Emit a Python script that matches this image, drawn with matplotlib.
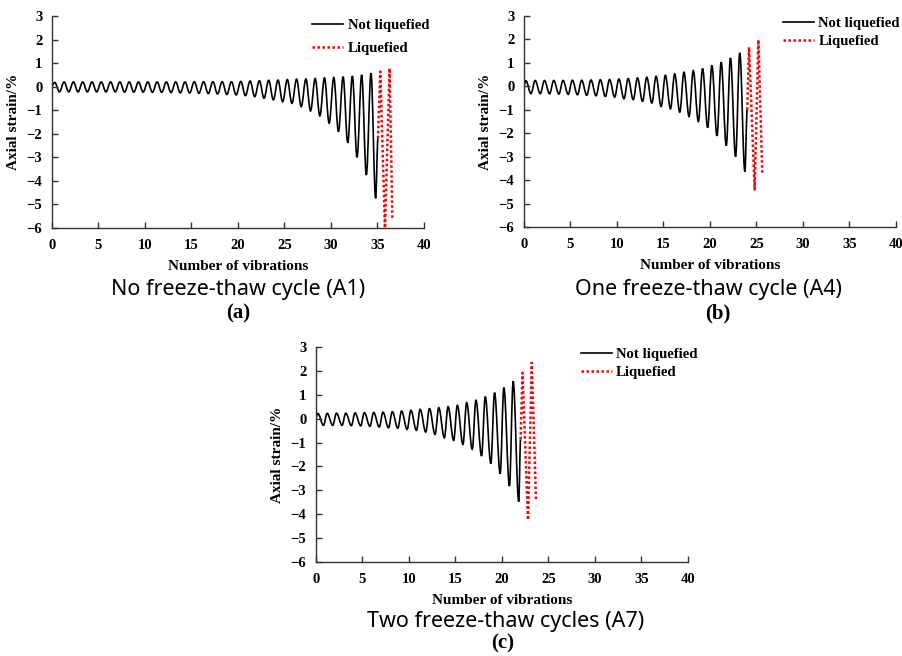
import matplotlib
matplotlib.use("Agg")
import matplotlib.pyplot as plt
from matplotlib.path import Path
from matplotlib.patches import PathPatch
from matplotlib.lines import Line2D

# ---------------- data ----------------
x_ticks = [0, 5, 10, 15, 20, 25, 30, 35, 40]
y_ticks = [-6, -5, -4, -3, -2, -1, 0, 1, 2, 3]

# Panel (a): No freeze-thaw cycle (A1)
a_start = 0.05
a_peak_phase = 0.3
a_trough_phase = 0.8
a_peaks = [0.18, 0.20, 0.20, 0.20, 0.20, 0.20, 0.20, 0.20, 0.20, 0.20,
           0.20, 0.20, 0.20, 0.20, 0.20, 0.21, 0.21, 0.21, 0.21, 0.21,
           0.22, 0.24, 0.25, 0.27, 0.28, 0.30, 0.32, 0.33, 0.35, 0.37,
           0.39, 0.42, 0.45, 0.50, 0.57]
a_troughs = [-0.22, -0.22, -0.22, -0.22, -0.22, -0.22, -0.22, -0.23, -0.23, -0.23,
             -0.24, -0.24, -0.25, -0.26, -0.27, -0.28, -0.29, -0.31, -0.33, -0.35,
             -0.38, -0.42, -0.49, -0.56, -0.64, -0.71, -0.85, -1.03, -1.24, -1.55,
             -1.91, -2.38, -3.00, -3.75, -4.74]
a_end = (35.05, -2.19)
a_liq_x = [35.05, 35.3, 35.8, 36.3, 36.6]
a_liq_y = [-2.19, 0.64, -6.0, 0.78, -5.63]

# Panel (b): One freeze-thaw cycle (A4)
b_start = 0.05
b_peak_phase = 0.2
b_trough_phase = 0.75
b_peaks = [0.24, 0.25, 0.25, 0.25, 0.25, 0.26, 0.26, 0.27, 0.28, 0.29,
           0.31, 0.33, 0.36, 0.39, 0.43, 0.47, 0.53, 0.60, 0.67, 0.76,
           0.89, 1.03, 1.21, 1.43]
b_troughs = [-0.31, -0.31, -0.32, -0.33, -0.34, -0.36, -0.38, -0.40, -0.43, -0.46,
             -0.53, -0.57, -0.64, -0.71, -0.86, -0.96, -1.10, -1.29, -1.50, -1.76,
             -2.11, -2.53, -3.00, -3.64]
b_end = (24.0, -1.0)
b_liq_x = [24.0, 24.2, 24.8, 25.2, 25.62]
b_liq_y = [-1.0, 1.67, -4.4, 1.98, -3.68]

# Panel (c): Two freeze-thaw cycles (A7)
c_start = 0.05
c_peak_phase = 0.2
c_trough_phase = 0.8
c_peaks = [0.22, 0.22, 0.23, 0.23, 0.24, 0.25, 0.26, 0.27, 0.29, 0.32,
           0.35, 0.39, 0.42, 0.46, 0.50, 0.56, 0.67, 0.78, 0.92, 1.09,
           1.30, 1.57]
c_troughs = [-0.28, -0.28, -0.28, -0.29, -0.30, -0.32, -0.35, -0.38, -0.40, -0.45,
             -0.49, -0.56, -0.66, -0.80, -0.91, -1.08, -1.28, -1.56, -1.88, -2.30,
             -2.82, -3.47]
c_end = (22.0, -0.87)
c_liq_x = [22.0, 22.2, 22.8, 23.2, 23.66]
c_liq_y = [-0.87, 1.92, -4.24, 2.34, -3.45]

captions = ["No freeze-thaw cycle (A1)", "One freeze-thaw cycle (A4)",
            "Two freeze-thaw cycles (A7)"]
letters = ["(a)", "(b)", "(c)"]
legend_labels = ["Not liquefied", "Liquefied"]
x_label = "Number of vibrations"
y_label = "Axial strain/%"


def build(start, peaks, troughs, p_ph, t_ph, end):
    xs = [0.0]
    ys = [start]
    for i, (p, t) in enumerate(zip(peaks, troughs)):
        xs += [i + p_ph, i + t_ph]
        ys += [p, t]
    xs.append(end[0])
    ys.append(end[1])
    return xs, ys


def smooth_path(xs, ys, k=0.36):
    # cubic Bezier segments between successive extremes (horizontal tangents)
    verts = [(xs[0], ys[0])]
    codes = [Path.MOVETO]
    for i in range(1, len(xs)):
        x0, y0, x1, y1 = xs[i - 1], ys[i - 1], xs[i], ys[i]
        dx = x1 - x0
        verts += [(x0 + k * dx, y0), (x1 - k * dx, y1), (x1, y1)]
        codes += [Path.CURVE4, Path.CURVE4, Path.CURVE4]
    return Path(verts, codes)


W, H = 903, 656
fig = plt.figure(figsize=(W / 100, H / 100), dpi=100)

serif = "Liberation Serif"

panels = [
    dict(rect=(52, 16, 424, 228), data=(a_start, a_peaks, a_troughs, a_peak_phase, a_trough_phase, a_end),
         liq=(a_liq_x, a_liq_y), leg=(0.70, 0.985), legsp=0.62,
         cap=(238, 289), let=(238, 313)),
    dict(rect=(524, 16, 896, 227), data=(b_start, b_peaks, b_troughs, b_peak_phase, b_trough_phase, b_end),
         liq=(b_liq_x, b_liq_y), leg=(0.696, 0.997), legsp=0.3,
         cap=(709, 289), let=(718, 313)),
    dict(rect=(316, 347, 688, 562), data=(c_start, c_peaks, c_troughs, c_peak_phase, c_trough_phase, c_end),
         liq=(c_liq_x, c_liq_y), leg=(0.712, 0.997), legsp=0.3,
         cap=(506, 622), let=(503, 643)),
]

for k, pnl in enumerate(panels):
    l, t, r, b = pnl["rect"]
    ax = fig.add_axes([l / W, 1 - b / H, (r - l) / W, (b - t) / H])
    xs, ys = build(*pnl["data"])
    ax.add_patch(PathPatch(smooth_path(xs, ys), facecolor="none",
                           edgecolor="black", lw=1.2))
    ax.plot(pnl["liq"][0], pnl["liq"][1], color="red", lw=1.8, ls=(0, (1, 1)))
    ax.set_xlim(0, 40)
    ax.set_ylim(-6, 3)
    ax.set_xticks(x_ticks)
    ax.set_yticks(y_ticks)
    ax.set_xticklabels([str(v) for v in x_ticks])
    ax.set_yticklabels([str(v).replace("-", "\u2212") for v in y_ticks])
    for sp in ["top", "right"]:
        ax.spines[sp].set_visible(False)
    for sp in ["left", "bottom"]:
        ax.spines[sp].set_linewidth(1.0)
        ax.spines[sp].set_color("#333333")
    ax.tick_params(direction="in", length=4, width=1.0, color="#333333", pad=7)
    ax.tick_params(axis="x", pad=8)
    for lab in ax.get_xticklabels() + ax.get_yticklabels():
        lab.set_fontfamily(serif)
        lab.set_fontweight("bold")
        lab.set_fontsize(10.5)
    ax.set_xlabel(x_label, fontfamily=serif, fontweight="bold", fontsize=11, labelpad=6)
    ax.set_ylabel(y_label, fontfamily=serif, fontweight="bold", fontsize=11, labelpad=5)
    handles = [Line2D([], [], color="black", lw=1.2),
               Line2D([], [], color="red", lw=1.8, ls=(0, (1, 1)))]
    ax.legend(handles, legend_labels, loc="upper left", bbox_to_anchor=pnl["leg"],
              frameon=False, prop=dict(family=serif, weight="bold", size=10.6),
              handlelength=2.1, handletextpad=0.3, borderpad=0,
              borderaxespad=0, labelspacing=pnl["legsp"])
    cx, cy = pnl["cap"]
    fig.text(cx / W, 1 - cy / H, captions[k], ha="center", va="center",
             fontfamily="Noto Sans", fontsize=15.5)
    lx, ly = pnl["let"]
    fig.text(lx / W, 1 - ly / H, letters[k], ha="center", va="center",
             fontfamily=serif, fontweight="bold", fontsize=15)

fig.savefig("out.png", dpi=100)
